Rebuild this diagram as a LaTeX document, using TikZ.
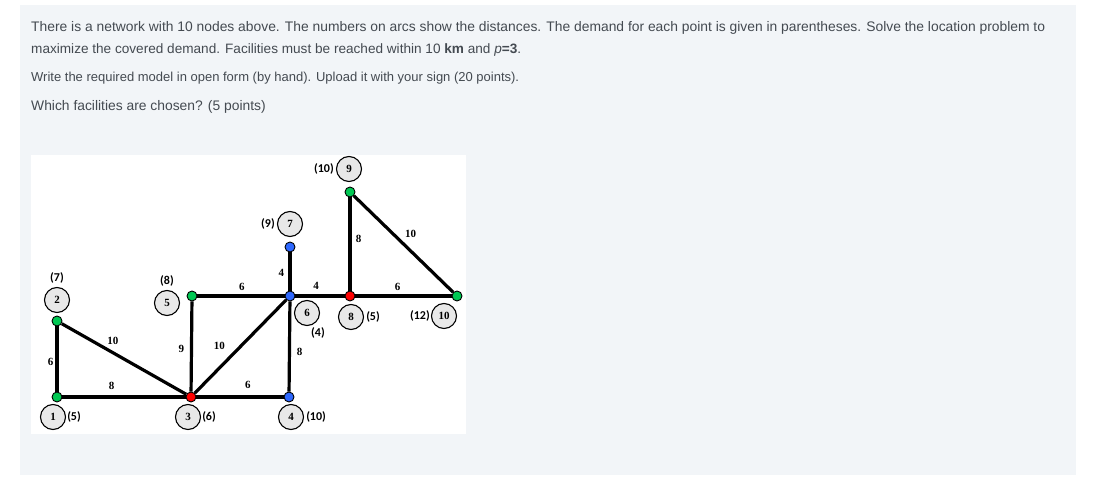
\documentclass[tikz,border=0pt]{standalone}
\usepackage{fontspec}
\setmainfont{Liberation Sans}
\newfontfamily\numfont{Liberation Serif}
\newfontfamily\demfont{Carlito}
\usepackage{xcolor}
\usepackage{tikz}
\usetikzlibrary{positioning}
\definecolor{panelbg}{RGB}{242,245,248}
\definecolor{qtext}{RGB}{68,74,81}
\definecolor{dotgreen}{RGB}{0,200,83}
\definecolor{dotred}{RGB}{255,0,0}
\definecolor{dotblue}{RGB}{46,104,255}

\begin{document}
\begin{tikzpicture}[x=1pt, y=-1pt,
  qline/.style={anchor=base west, inner sep=0, text=qtext},
  arc/.style={line width=3.2pt},
  dot/.style={circle, draw, line width=0.9pt, minimum size=10pt, inner sep=0},
  nd/.style={circle, draw, line width=1.1pt, fill=black!9, minimum size=25pt, inner sep=0,
    font=\numfont\bfseries\fontsize{11}{11}\selectfont},
  dem/.style={inner sep=0, font=\demfont\bfseries\fontsize{12}{12}\selectfont},
  dist/.style={inner sep=1pt, font=\numfont\bfseries\fontsize{11}{11}\selectfont}]
\useasboundingbox (0,0) rectangle (1095,494);
\fill[panelbg] (20,5) rectangle (1076,475);
\node[qline, font=\fontsize{13.85}{17}\selectfont] (q1) at (31,32) {There is a network with 10 nodes above. The numbers on arcs show the distances. The demand for each point is given in parentheses. Solve the location problem to};
\node[qline, font=\fontsize{13.6}{17}\selectfont] (q2) at (31,54) {maximize the covered demand. Facilities must be reached within 10 \textbf{km} and \textit{p}\textbf{=3}.};
\node[qline, font=\fontsize{13}{16}\selectfont] (q3) at (31,82) {Write the required model in open form (by hand). Upload it with your sign (20 points).};
\node[qline, font=\fontsize{13.85}{17}\selectfont] (q4) at (31,111) {Which facilities are chosen? (5 points)};
\fill[white] (31,155) rectangle (466,434);

\node[dot, fill=dotgreen] (d1) at (57,397) {};
\node[dot, fill=dotgreen] (d2) at (57,321) {};
\node[dot, fill=dotred] (d3) at (191,397) {};
\node[dot, fill=dotblue] (d4) at (289,397) {};
\node[dot, fill=dotgreen] (d5) at (192,296) {};
\node[dot, fill=dotblue] (d6) at (290,296) {};
\node[dot, fill=dotblue] (d7) at (290,247) {};
\node[dot, fill=dotred] (d8) at (350,296) {};
\node[dot, fill=dotgreen] (d9) at (350,192) {};
\node[dot, fill=dotgreen] (d10) at (457,296) {};

\draw[arc] (d1) -- node[dist, pos=.45, left=1pt] {6} (d2);
\draw[arc] (d1) -- node[dist, pos=.4, above=4.3pt] {8} (d3);
\draw[arc] (d2) -- node[dist, pos=.41, above=5pt] {10} (d3);
\draw[arc] (d3) -- node[dist, pos=.47, left=4.7pt] {9} (d5);
\draw[arc] (d3) -- node[dist, pos=.39, above left=5pt and 3pt] {10} (d6);
\draw[arc] (d5) -- node[dist, pos=.51, above=2.3pt] {6} (d6);
\draw[arc] (d3) -- node[dist, pos=.59, above=5.3pt] {6} (d4);
\draw[arc] (d4) -- node[dist, pos=.44, right=4.7pt] {8} (d6);
\draw[arc] (d6) -- node[dist, pos=.46, left=3.2pt] {4} (d7);
\draw[arc] (d6) -- node[dist, pos=.42, above=4.3pt] {4} (d8);
\draw[arc] (d8) -- node[dist, pos=.55, right=3.2pt] {8} (d9);
\draw[arc] (d9) -- node[dist, pos=.48, above right=2.2pt and 1pt] {10} (d10);
\draw[arc] (d8) -- node[dist, pos=.44, above=2.3pt] {6} (d10);

\node[nd] (n1) at (53,417) {1};
\node[nd] (n2) at (57,300) {2};
\node[nd] (n3) at (188,417) {3};
\node[nd] (n4) at (291,417) {4};
\node[nd] (n5) at (167,303) {5};
\node[nd] (n6) at (307,313) {6};
\node[nd] (n7) at (290,224) {7};
\node[nd] (n8) at (351,317) {8};
\node[nd] (n9) at (349,169) {9};
\node[nd] (n10) at (444,316) {10};

\node[dem, right=1pt of n1] (p1) {(5)};
\node[dem, above=3pt of n2] (p2) {(7)};
\node[dem, right=1pt of n3] (p3) {(6)};
\node[dem, right=2pt of n4] (p4) {(10)};
\node[dem, above=3pt of n5] (p5) {(8)};
\node[dem] (p6) at (318,333) {(4)};
\node[dem, left=2pt of n7] (p7) {(9)};
\node[dem, right=2pt of n8] (p8) {(5)};
\node[dem, left=2pt of n9] (p9) {(10)};
\node[dem, left=1pt of n10] (p10) {(12)};
\end{tikzpicture}
\end{document}
